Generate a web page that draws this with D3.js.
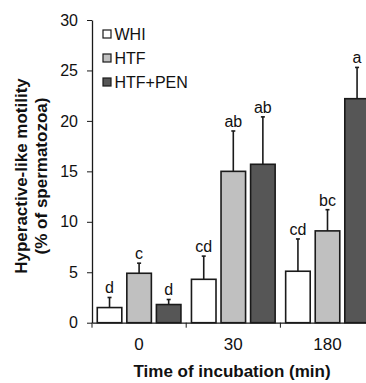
<!DOCTYPE html>
<html>
<head>
<meta charset="utf-8">
<script src="https://cdn.jsdelivr.net/npm/d3@7"></script>
<style>
  body { margin: 0; background: #fff; }
  svg text { font-family: "Liberation Sans", Arial, sans-serif; fill: #111; }
</style>
</head>
<body>
<svg width="366" height="383"></svg>
<script>
// data
var times = ["0", "30", "180"];
var series = ["WHI", "HTF", "HTF+PEN"];
var whi_mean = [1.5, 4.3, 5.1];
var htf_mean = [4.9, 15.0, 9.1];
var pen_mean = [1.8, 15.7, 22.2];
var whi_err = [1.0, 2.3, 3.2];
var htf_err = [1.0, 4.0, 2.1];
var pen_err = [0.5, 4.7, 3.1];
var whi_letters = ["d", "cd", "cd"];
var htf_letters = ["c", "ab", "bc"];
var pen_letters = ["d", "ab", "a"];
var y_ticks = [0, 5, 10, 15, 20, 25, 30];

var fills = {"WHI": "#ffffff", "HTF": "#c0c0c0", "HTF+PEN": "#565656"};

var means = [whi_mean, htf_mean, pen_mean];
var errs = [whi_err, htf_err, pen_err];
var letters = [whi_letters, htf_letters, pen_letters];

var rows = [];
times.forEach(function(t, i) {
    series.forEach(function(s, j) {
        rows.push({time: t, name: s, value: means[j][i], err: errs[j][i], letter: letters[j][i]});
    });
});

var svg = d3.select("svg");
var left = 92, plotTop = 20, bottom = 322.7, groupW = 94.2;

var x = d3.scaleBand()
    .domain(times)
    .range([left, left + groupW * times.length])
    .padding(0);

var xs = d3.scaleBand()
    .domain(series)
    .range([0, x.bandwidth()])
    .paddingInner(0.17)
    .paddingOuter(0.178);

var y = d3.scaleLinear()
    .domain([0, 30])
    .range([bottom, plotTop]);

// bars
svg.selectAll(".bar")
    .data(rows)
    .enter()
    .append("rect")
    .attr("class", "bar")
    .attr("x", function(d) { return x(d.time) + xs(d.name); })
    .attr("y", function(d) { return y(d.value); })
    .attr("width", xs.bandwidth())
    .attr("height", function(d) { return y(0) - y(d.value); })
    .style("fill", function(d) { return fills[d.name]; })
    .style("stroke", "#1a1a1a")
    .style("stroke-width", 1.6);

// error bars (upper only)
var cx = function(d) { return x(d.time) + xs(d.name) + xs.bandwidth() / 2; };
svg.selectAll(".err")
    .data(rows)
    .enter()
    .append("line")
    .attr("x1", cx).attr("x2", cx)
    .attr("y1", function(d) { return y(d.value); })
    .attr("y2", function(d) { return y(d.value + d.err); })
    .style("stroke", "#1a1a1a")
    .style("stroke-width", 1.6);

svg.selectAll(".cap")
    .data(rows)
    .enter()
    .append("line")
    .attr("x1", function(d) { return cx(d) - 2; })
    .attr("x2", function(d) { return cx(d) + 2; })
    .attr("y1", function(d) { return y(d.value + d.err); })
    .attr("y2", function(d) { return y(d.value + d.err); })
    .style("stroke", "#1a1a1a")
    .style("stroke-width", 1.6);

// significance letters
svg.selectAll(".letter")
    .data(rows)
    .enter()
    .append("text")
    .attr("x", cx)
    .attr("y", function(d) { return y(d.value + d.err) - 4; })
    .attr("text-anchor", "middle")
    .style("font-size", "16px")
    .text(function(d) { return d.letter; });

// y axis
var yAxis = svg.append("g")
    .attr("transform", "translate(" + left + ",0)")
    .call(d3.axisLeft(y).tickValues(y_ticks).tickSize(5).tickPadding(9).tickSizeOuter(0));
yAxis.selectAll("text").style("font-size", "16px");

// x axis
var xAxis = svg.append("g")
    .attr("transform", "translate(0," + bottom + ")")
    .call(d3.axisBottom(x).tickSize(0).tickPadding(15).tickSizeOuter(0));
xAxis.selectAll("text").style("font-size", "17px");
// small ticks between the groups
xAxis.selectAll(".sep")
    .data(times)
    .enter()
    .append("line")
    .attr("x1", function(d) { return x(d); })
    .attr("x2", function(d) { return x(d); })
    .attr("y1", 0).attr("y2", 5)
    .style("stroke", "#1a1a1a");

svg.selectAll(".domain").style("stroke", "#1a1a1a").style("stroke-width", 1.3);
svg.selectAll(".tick line").style("stroke", "#1a1a1a");

// legend
var legend = svg.append("g");
series.forEach(function(s, i) {
    var ly = 34 + i * 24;
    legend.append("rect")
        .attr("x", 103).attr("y", ly - 4)
        .attr("width", 8).attr("height", 8)
        .style("fill", fills[s])
        .style("stroke", "#1a1a1a")
        .style("stroke-width", 1.2);
    legend.append("text")
        .attr("x", 114.5).attr("y", ly + 5.5)
        .style("font-size", "16px")
        .text(s);
});

// axis titles
svg.append("text")
    .attr("text-anchor", "middle")
    .style("font-size", "17px")
    .style("font-weight", "bold")
    .attr("transform", "translate(232,377)")
    .text("Time of incubation (min)");

svg.append("text")
    .attr("text-anchor", "middle")
    .style("font-size", "17px")
    .style("font-weight", "bold")
    .attr("transform", "translate(27,176) rotate(-90)")
    .text("Hyperactive-like motility");

svg.append("text")
    .attr("text-anchor", "middle")
    .style("font-size", "17px")
    .style("font-weight", "bold")
    .attr("transform", "translate(47,176) rotate(-90)")
    .text("(% of spermatozoa)");
</script>
</body>
</html>
